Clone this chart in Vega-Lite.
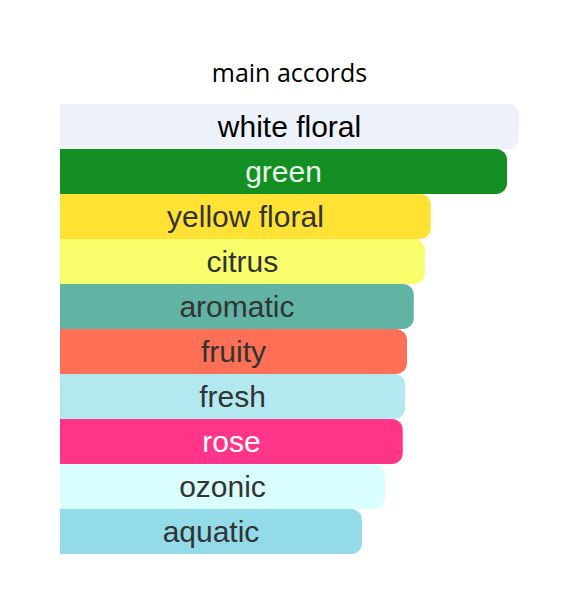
{
  "$schema": "https://vega.github.io/schema/vega-lite/v6.json",
  "autosize": {"type": "none"},
  "width": 459,
  "height": 450,
  "padding": {"left": 60, "top": 104, "right": 52, "bottom": 54},
  "background": "#ffffff",
  "title": {
    "text": "main accords",
    "font": "Open Sans",
    "fontSize": 25,
    "fontWeight": "normal",
    "color": "#000000",
    "offset": 17
  },
  "data": {
    "values": [
      {"accord": "white floral", "value": 100, "fill": "#edf1f9", "ink": "#000000"},
      {"accord": "green", "value": 97.4, "fill": "#148f24", "ink": "#eaf7ea"},
      {"accord": "yellow floral", "value": 80.8, "fill": "#ffe234", "ink": "#333333"},
      {"accord": "citrus", "value": 79.5, "fill": "#f8fd6b", "ink": "#333333"},
      {"accord": "aromatic", "value": 77.1, "fill": "#61b3a3", "ink": "#333333"},
      {"accord": "fruity", "value": 75.6, "fill": "#fe7055", "ink": "#333333"},
      {"accord": "fresh", "value": 75.2, "fill": "#b2e9f1", "ink": "#333333"},
      {"accord": "rose", "value": 74.7, "fill": "#fe3588", "ink": "#ffffff"},
      {"accord": "ozonic", "value": 70.8, "fill": "#d9fefd", "ink": "#333333"},
      {"accord": "aquatic", "value": 65.8, "fill": "#93dbe9", "ink": "#333333"}
    ]
  },
  "encoding": {
    "y": {
      "field": "accord",
      "type": "nominal",
      "sort": null,
      "axis": null,
      "scale": {"paddingInner": 0, "paddingOuter": 0}
    }
  },
  "layer": [
    {
      "mark": {"type": "bar", "cornerRadiusTopRight": 11, "cornerRadiusBottomRight": 11},
      "encoding": {
        "x": {"field": "value", "type": "quantitative", "axis": null, "scale": {"domain": [0, 100], "nice": false}},
        "color": {"field": "fill", "type": "nominal", "scale": null}
      }
    },
    {
      "mark": {"type": "text", "font": "Liberation Sans", "fontSize": 30, "align": "center", "baseline": "middle", "dy": 1},
      "encoding": {
        "x": {"field": "value", "type": "quantitative", "axis": null, "scale": {"domain": [0, 200], "nice": false}},
        "text": {"field": "accord"},
        "color": {"field": "ink", "type": "nominal", "scale": null}
      }
    }
  ],
  "resolve": {"scale": {"x": "independent"}},
  "config": {"view": {"stroke": null}}
}
